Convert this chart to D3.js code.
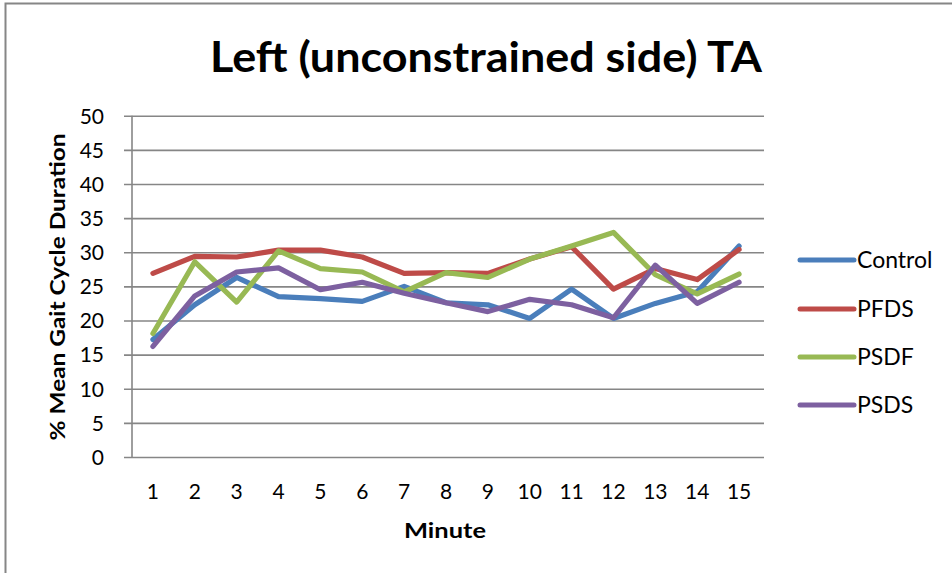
<!DOCTYPE html>
<html>
<head>
<meta charset="utf-8">
<script src="https://cdn.jsdelivr.net/npm/d3@7"></script>
<style>
  html, body { margin: 0; padding: 0; background: #fff; }
  svg { display: block; }
  text { font-family: Lato, "Open Sans", sans-serif; fill: #000; }
</style>
</head>
<body>
<svg id="chart" width="952" height="573"></svg>
<script>
// Minutes along the x axis
const minutes = [1, 2, 3, 4, 5, 6, 7, 8, 9, 10, 11, 12, 13, 14, 15];
// Mean % of gait cycle per minute, one array per group
const control = [17.2, 22.3, 26.3, 23.5, 23.2, 22.8, 25.0, 22.6, 22.3, 20.3, 24.6, 20.3, 22.5, 24.2, 30.9];
const pfds    = [26.9, 29.4, 29.3, 30.3, 30.3, 29.3, 26.9, 27.0, 26.9, 29.0, 30.8, 24.6, 27.6, 26.0, 30.4];
const psdf    = [18.1, 28.6, 22.7, 30.2, 27.6, 27.1, 24.2, 27.0, 26.3, 29.0, 30.9, 32.9, 26.7, 23.9, 26.8];
const psds    = [16.2, 23.6, 27.1, 27.7, 24.5, 25.6, 24.0, 22.6, 21.3, 23.1, 22.3, 20.4, 28.1, 22.5, 25.6];
const seriesNames = ["Control", "PFDS", "PSDF", "PSDS"];
const seriesColors = ["#4A7EBB", "#BE4B48", "#98B954", "#7D60A0"];
const yTicks = [0, 5, 10, 15, 20, 25, 30, 35, 40, 45, 50];

const seriesData = [control, pfds, psdf, psds];

const svg = d3.select("#chart");

// outer chart frame
svg.append("rect")
  .attr("x", 5.5).attr("y", 3.5)
  .attr("width", 960).attr("height", 600)
  .attr("fill", "#fff").attr("stroke", "#868686").attr("stroke-width", 2);

const plot = { left: 132, right: 760, top: 115.7, bottom: 457 };

const x = d3.scaleBand()
  .domain(minutes)
  .range([plot.left, plot.right]);
const xc = d => x(d) + x.bandwidth() / 2;

const y = d3.scaleLinear()
  .domain([0, 50])
  .range([plot.bottom, plot.top]);

// horizontal gridlines + y axis
const yAxis = d3.axisLeft(y)
  .tickValues(yTicks)
  .tickSize(-(plot.right + 4 - plot.left))
  .tickPadding(28)
  .tickFormat(d3.format("d"));

const gy = svg.append("g")
  .attr("transform", `translate(${plot.left},0)`)
  .call(yAxis);
gy.select(".domain").remove();
gy.selectAll(".tick line")
  .attr("x1", -8)
  .attr("stroke", "#868686").attr("stroke-width", 1.6);
gy.selectAll(".tick text")
  .attr("x", -28)
  .attr("dy", "0.35em")
  .style("font-size", "21px")
  .style("font-family", "Lato, sans-serif")
  .attr("fill", "#000");

// vertical axis line
svg.append("line")
  .attr("x1", plot.left).attr("x2", plot.left)
  .attr("y1", plot.top).attr("y2", plot.bottom)
  .attr("stroke", "#868686").attr("stroke-width", 1.6);

// x axis labels
const xAxis = d3.axisBottom(x).tickSize(0).tickPadding(27);
const gx = svg.append("g")
  .attr("transform", `translate(0,${plot.bottom})`)
  .call(xAxis);
gx.select(".domain").remove();
gx.selectAll(".tick text")
  .style("font-size", "21px")
  .style("font-family", "Lato, sans-serif")
  .attr("fill", "#000");

// series lines
const line = d3.line()
  .x((d, i) => xc(minutes[i]))
  .y(d => y(d));

seriesData.forEach((vals, k) => {
  svg.append("path")
    .datum(vals)
    .attr("d", line)
    .attr("fill", "none")
    .attr("stroke", seriesColors[k])
    .attr("stroke-width", 5.2)
    .attr("stroke-linejoin", "round")
    .attr("stroke-linecap", "round");
});

// title
svg.append("text")
  .attr("x", 486).attr("y", 72)
  .attr("text-anchor", "middle")
  .attr("textLength", 552)
  .attr("lengthAdjust", "spacingAndGlyphs")
  .style("font-size", "42px")
  .style("font-weight", "bold")
  .text("Left (unconstrained side) TA");

// axis titles
svg.append("text")
  .attr("x", 445).attr("y", 538)
  .attr("text-anchor", "middle")
  .attr("textLength", 82)
  .attr("lengthAdjust", "spacingAndGlyphs")
  .style("font-size", "21px")
  .style("font-weight", "bold")
  .text("Minute");

svg.append("text")
  .attr("transform", "translate(65,287) rotate(-90)")
  .attr("text-anchor", "middle")
  .attr("textLength", 307)
  .attr("lengthAdjust", "spacingAndGlyphs")
  .style("font-size", "21px")
  .style("font-weight", "bold")
  .text("% Mean Gait Cycle Duration");

// legend
const legendY = [260, 309, 357, 405];
const legend = svg.append("g");
seriesNames.forEach((name, k) => {
  legend.append("line")
    .attr("x1", 800).attr("x2", 854)
    .attr("y1", legendY[k]).attr("y2", legendY[k])
    .attr("stroke", seriesColors[k])
    .attr("stroke-width", 5)
    .attr("stroke-linecap", "round");
  legend.append("text")
    .attr("x", 857).attr("y", legendY[k])
    .attr("dy", "0.35em")
    .style("font-size", "23px")
    .text(name);
});
</script>
</body>
</html>
